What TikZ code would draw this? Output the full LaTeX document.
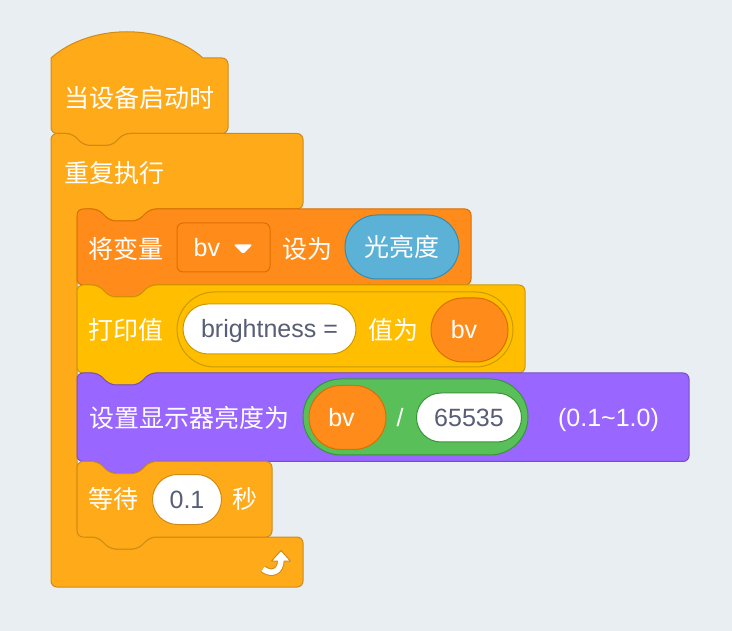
\documentclass[tikz,border=0pt]{standalone}
\usepackage{fontspec}
\setmainfont{Liberation Sans}
\newfontfamily\cjkf{Noto Sans CJK SC}
\usetikzlibrary{shapes.misc}
\definecolor{bg}{HTML}{E9EEF2}
\definecolor{ctrl}{HTML}{FFAB19}
\definecolor{ctrlb}{HTML}{CF8B17}
\definecolor{vars}{HTML}{FF8C1A}
\definecolor{varsb}{HTML}{DB6E00}
\definecolor{evt}{HTML}{FFBF00}
\definecolor{evtb}{HTML}{CC9900}
\definecolor{looks}{HTML}{9966FF}
\definecolor{looksb}{HTML}{774DCB}
\definecolor{ops}{HTML}{59C059}
\definecolor{opsb}{HTML}{389438}
\definecolor{sens}{HTML}{5CB1D6}
\definecolor{sensb}{HTML}{2E8EB8}
\definecolor{intext}{HTML}{575E75}
% stack block: L T R B fill border
\newcommand\stackblk[6]{%
  \draw[fill=#5,draw=#6,line width=1pt,rounded corners=6pt]
    (#1,{(#2+#4)/2}) -- (#1,#2) -- ({#1+21},#2) -- ({#1+33},{#2+12}) -- ({#1+61},{#2+12}) -- ({#1+73},#2)
    -- (#3,#2) -- (#3,#4) -- ({#1+73},#4) -- ({#1+61},{#4+12}) -- ({#1+33},{#4+12}) -- ({#1+21},#4)
    -- (#1,#4) -- cycle;}
\tikzset{
  cjktxt/.style={text=white, inner sep=0pt, font=\cjkf\fontsize{25}{30}\selectfont, text height=18.5pt, text depth=0pt, anchor=west},
  lattxt/.style={inner sep=0pt, font=\fontsize{25}{30}\selectfont, text height=18pt, text depth=0pt},
  pill/.style={rounded rectangle, inner sep=0pt, line width=1pt},
  whitein/.style={pill, fill=white, text=intext, lattxt},
}
\begin{document}
\begin{tikzpicture}[x=1pt,y=-1pt]
\fill[bg] (0,0) rectangle (732,631);
\useasboundingbox (0,0) rectangle (732,631);
% hat block
\draw[fill=ctrl,draw=ctrlb,line width=1pt]
  (51,58) .. controls (90.6,23) and (163.4,23) .. (203,58)
  [rounded corners=6pt] -- (228,58) -- (228,133.5) -- (124,133.5) -- (112,145.5) -- (84,145.5) -- (72,133.5)
  -- (51,133.5) -- (51,100) [sharp corners] -- cycle;
% forever C block
\draw[fill=ctrl,draw=ctrlb,line width=1pt,rounded corners=6pt]
  (51,360) -- (51,133.5) -- (72,133.5) -- (84,145.5) -- (112,145.5) -- (124,133.5) -- (303,133.5)
  -- (303,209) -- (150,209) -- (138,221) -- (110,221) -- (98,209) -- (77,209)
  -- (77,537) -- (98,537) -- (110,549) -- (138,549) -- (150,537) -- (303,537)
  -- (303,587) -- (51,587) -- cycle;
\fill[ctrl] (70,202) rectangle (86,216);
\fill[ctrl] (70,530) rectangle (86,544);
% inner stack
\stackblk{77}{209}{471}{285}{vars}{varsb}
\stackblk{77}{285}{525}{373}{evt}{evtb}
\stackblk{77}{373}{689}{461.5}{looks}{looksb}
\stackblk{77}{461.5}{272}{537}{ctrl}{ctrlb}
% texts of hat and loop
\node[cjktxt] (hatlbl) at (64,98) {当设备启动时};
\node[cjktxt] (replbl) at (64,173) {重复执行};
% set variable
\node[cjktxt] (setlbl) at (88,249) {将变量};
\node[draw=varsb, fill=vars, line width=1pt, rounded corners=6pt, minimum width=93, minimum height=49, inner sep=0pt] (dd) at (223.5,247.5) {};
\node[lattxt, text=white, anchor=west] (ddtxt) at (193.5,248) {bv};
\fill[white, rounded corners=1.5pt] (233.5,244.5) -- (252.5,244.5) -- (243,254) -- cycle;
\node[cjktxt] (setto) at (282,249) {设为};
\node[pill, fill=sens, draw=sensb, minimum width=114, minimum height=64, cjktxt, anchor=center] (light) at (402,247) {光亮度};
% print
\node[cjktxt] (prlbl) at (88,330) {打印值};
\node[pill, fill=evt, draw=evtb, minimum width=336, minimum height=75] (join) at (345,329.5) {};
\node[whitein, draw=evtb, minimum width=173, minimum height=50] (bstr) at (269.5,329) {brightness =};
\node[cjktxt] (valis) at (368,330) {值为};
\node[pill, fill=vars, draw=varsb, minimum width=77, minimum height=64] (bv1) at (469.5,330) {};
\node[lattxt, text=white] (bv1t) at (464,330) {bv};
% display brightness
\node[cjktxt] (disp) at (89,418) {设置显示器亮度为};
\node[pill, fill=ops, draw=opsb, minimum width=225, minimum height=76] (div) at (415.5,417) {};
\node[pill, fill=vars, draw=varsb, minimum width=77, minimum height=64] (bv2) at (347.5,417.5) {};
\node[lattxt, text=white] (bv2t) at (341.5,418) {bv};
\node[lattxt, text=white] (slash) at (400,418) {/};
\node[whitein, draw=opsb, minimum width=105, minimum height=49] (num) at (469,417.5) {65535};
\node[lattxt, text=white] (range) at (608.5,418) {(0.1\textasciitilde1.0)};
% wait
\node[cjktxt] (waitlbl) at (88,499) {等待};
\node[whitein, draw=ctrlb, minimum width=69, minimum height=50] (secs) at (187,499.5) {0.1};
\node[cjktxt] (seclbl) at (232,499) {秒};
% loop arrow
\draw[ctrlb, line width=7.5pt] (263,569) .. controls (271,575) and (281,573) .. (281,559);
\filldraw[fill=white, draw=ctrlb, line width=1pt, line join=round] (271.5,561) -- (290.5,561) -- (281,550.5) -- cycle;
\draw[white, line width=5.5pt] (263,569) .. controls (271,575) and (281,573) .. (281,559);
\end{tikzpicture}
\end{document}
